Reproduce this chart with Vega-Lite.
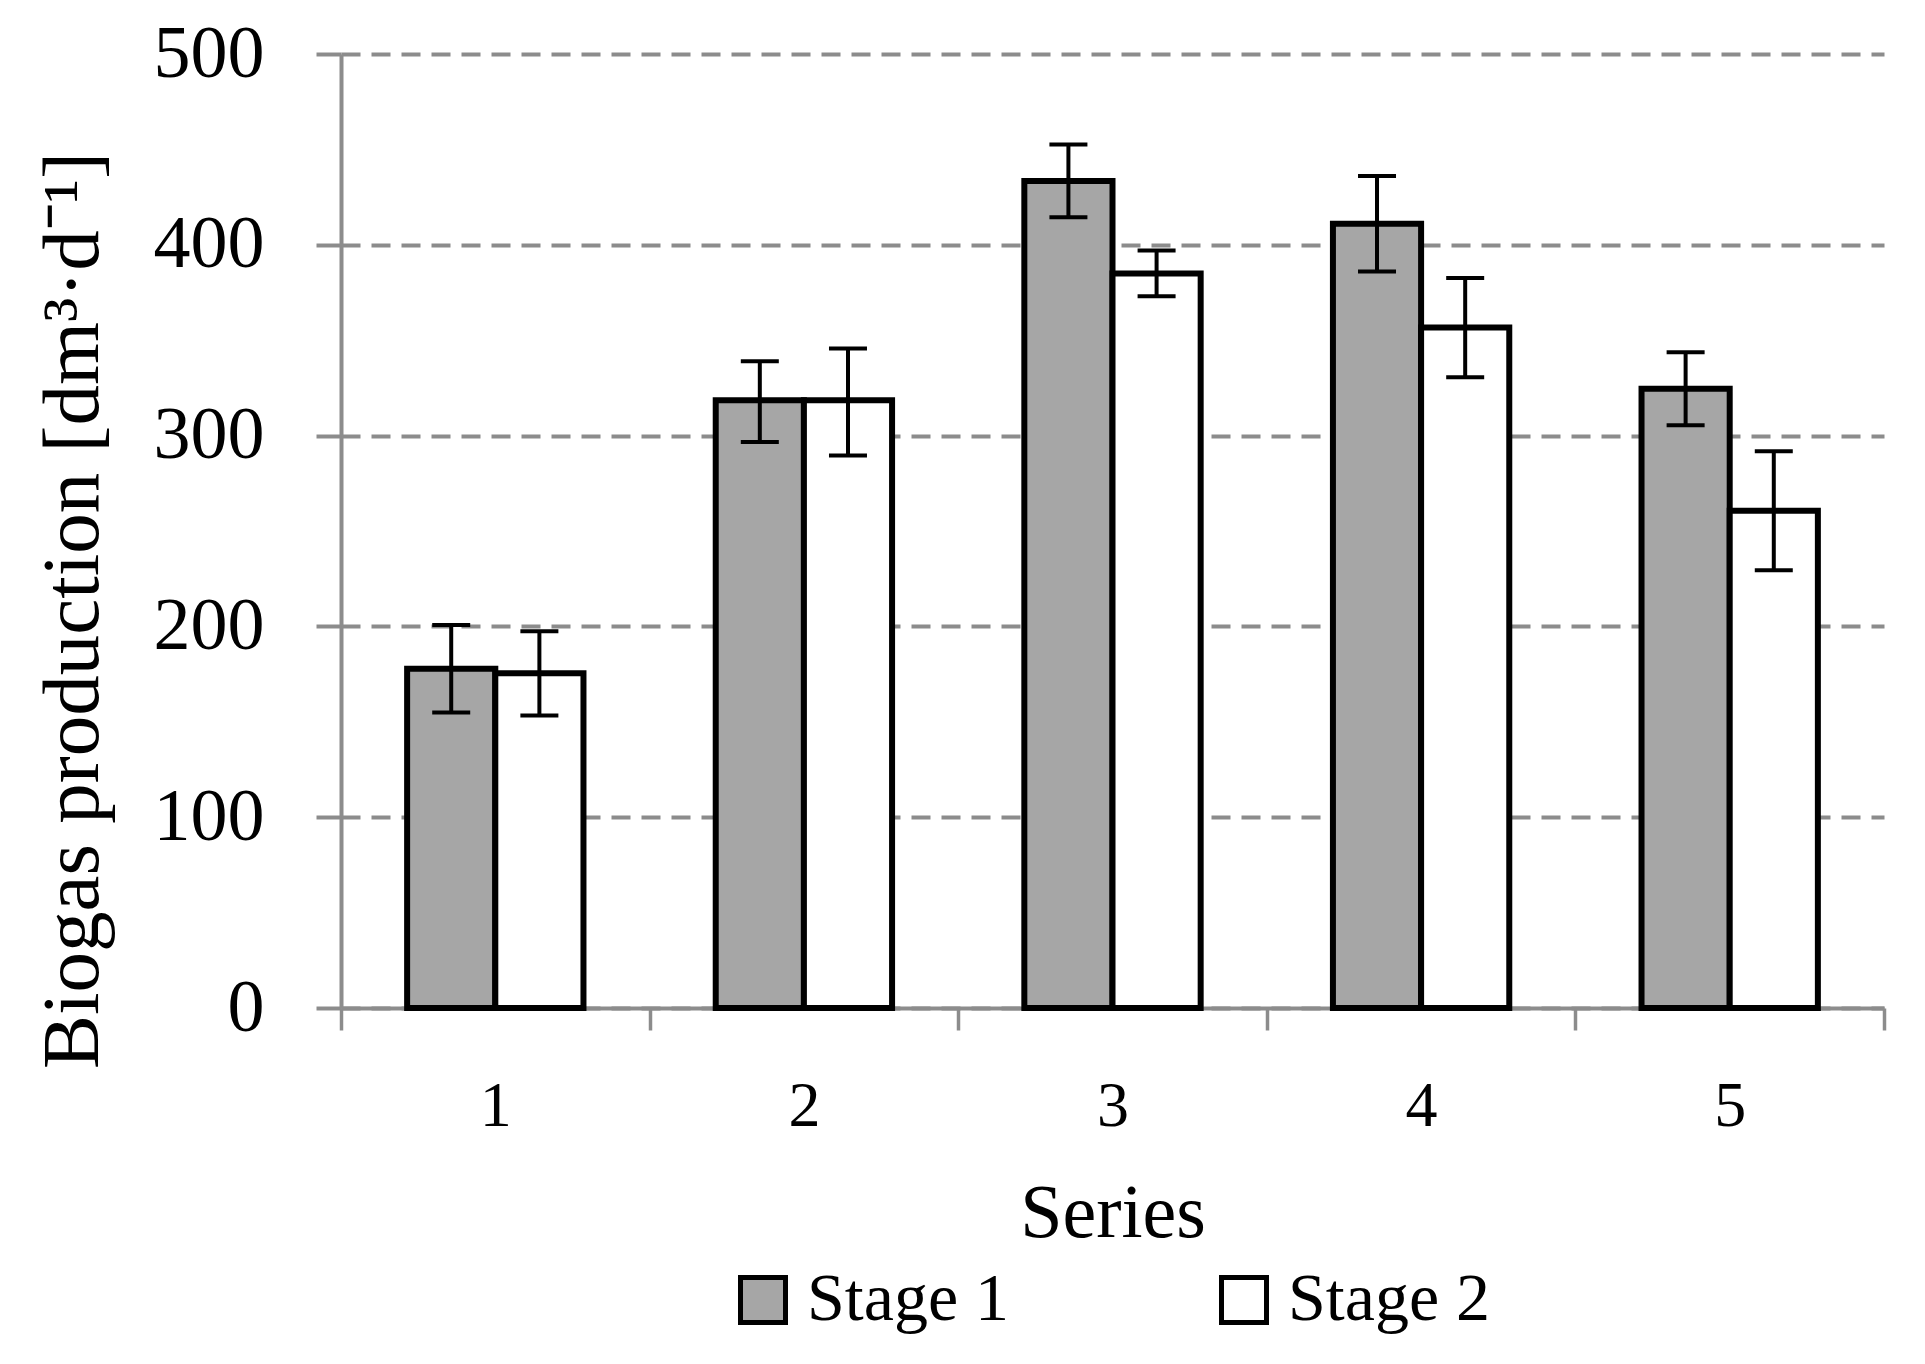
{
  "$schema": "https://vega.github.io/schema/vega-lite/v6.json",
  "width": 1543,
  "height": 954,
  "autosize": {"type": "none"},
  "padding": {"left": 341, "top": 54, "right": 41, "bottom": 356},
  "background": "white",
  "config": {"view": {"stroke": null}, "font": "Liberation Serif"},
  "data": {
    "values": [
      {"series": "1", "stage": "Stage 1", "value": 177.8, "low": 154.9, "high": 200.7},
      {"series": "1", "stage": "Stage 2", "value": 175.4, "low": 153.3, "high": 197.4},
      {"series": "2", "stage": "Stage 1", "value": 318.5, "low": 296.6, "high": 339.0},
      {"series": "2", "stage": "Stage 2", "value": 318.5, "low": 289.6, "high": 345.6},
      {"series": "3", "stage": "Stage 1", "value": 433.5, "low": 414.4, "high": 452.6},
      {"series": "3", "stage": "Stage 2", "value": 385.0, "low": 373.0, "high": 397.0},
      {"series": "4", "stage": "Stage 1", "value": 411.0, "low": 386.0, "high": 436.0},
      {"series": "4", "stage": "Stage 2", "value": 356.6, "low": 330.6, "high": 382.6},
      {"series": "5", "stage": "Stage 1", "value": 324.6, "low": 305.4, "high": 343.7},
      {"series": "5", "stage": "Stage 2", "value": 260.6, "low": 229.4, "high": 291.8}
    ]
  },
  "encoding": {
    "x": {
      "field": "series",
      "type": "nominal",
      "title": "Series",
      "scale": {"paddingInner": 0, "paddingOuter": 0},
      "axis": {
        "labelAngle": 0,
        "labelFontSize": 64,
        "labelColor": "black",
        "labelPadding": 44,
        "tickBand": "extent",
        "tickColor": "#8c8c8c",
        "tickWidth": 3.5,
        "tickSize": 22,
        "domainColor": "#8c8c8c",
        "domainWidth": 4,
        "titleFontSize": 76,
        "titleFontWeight": "normal",
        "titleColor": "black",
        "titlePadding": 38,
        "grid": false
      }
    },
    "xOffset": {
      "field": "stage",
      "type": "nominal",
      "scale": {"paddingInner": 0, "paddingOuter": 0.75}
    }
  },
  "layer": [
    {
      "mark": {"type": "bar", "stroke": "black", "strokeWidth": 6},
      "encoding": {
        "y": {
          "field": "value",
          "type": "quantitative",
          "title": "Biogas production [dm³·d⁻¹]",
          "scale": {"domain": [0, 500], "nice": false},
          "axis": {
            "values": [0, 100, 200, 300, 400, 500],
            "labelFontSize": 74,
            "labelColor": "black",
            "labelPadding": 52,
            "tickColor": "#8c8c8c",
            "tickWidth": 4,
            "tickSize": 25,
            "domainColor": "#8c8c8c",
            "domainWidth": 4,
            "grid": true,
            "gridColor": "#8c8c8c",
            "gridWidth": 4,
            "gridDash": [19, 11],
            "titleFontSize": 81,
            "titleFontWeight": "normal",
            "titleColor": "black",
            "titleX": -268,
            "titleY": 556,
            "titleBaseline": "middle"
          }
        },
        "fill": {
          "field": "stage",
          "type": "nominal",
          "scale": {"domain": ["Stage 1", "Stage 2"], "range": ["#a6a6a6", "#ffffff"]},
          "legend": {
            "title": null,
            "orient": "none",
            "direction": "horizontal",
            "legendX": 388,
            "legendY": 1212,
            "padding": 0,
            "symbolType": "square",
            "symbolSize": 2025,
            "symbolStrokeColor": "black",
            "symbolStrokeWidth": 5,
            "labelFontSize": 68,
            "labelColor": "black",
            "labelLimit": 0,
            "labelOffset": 10,
            "columnPadding": 200
          }
        }
      }
    },
    {
      "mark": {"type": "rule", "color": "black", "strokeWidth": 4},
      "encoding": {
        "y": {"field": "low", "type": "quantitative", "title": "Biogas production [dm³·d⁻¹]"},
        "y2": {"field": "high"}
      }
    },
    {
      "mark": {"type": "tick", "color": "black", "thickness": 4, "size": 38, "opacity": 1},
      "encoding": {
        "y": {"field": "low", "type": "quantitative", "title": "Biogas production [dm³·d⁻¹]"}
      }
    },
    {
      "mark": {"type": "tick", "color": "black", "thickness": 4, "size": 38, "opacity": 1},
      "encoding": {
        "y": {"field": "high", "type": "quantitative", "title": "Biogas production [dm³·d⁻¹]"}
      }
    }
  ]
}
